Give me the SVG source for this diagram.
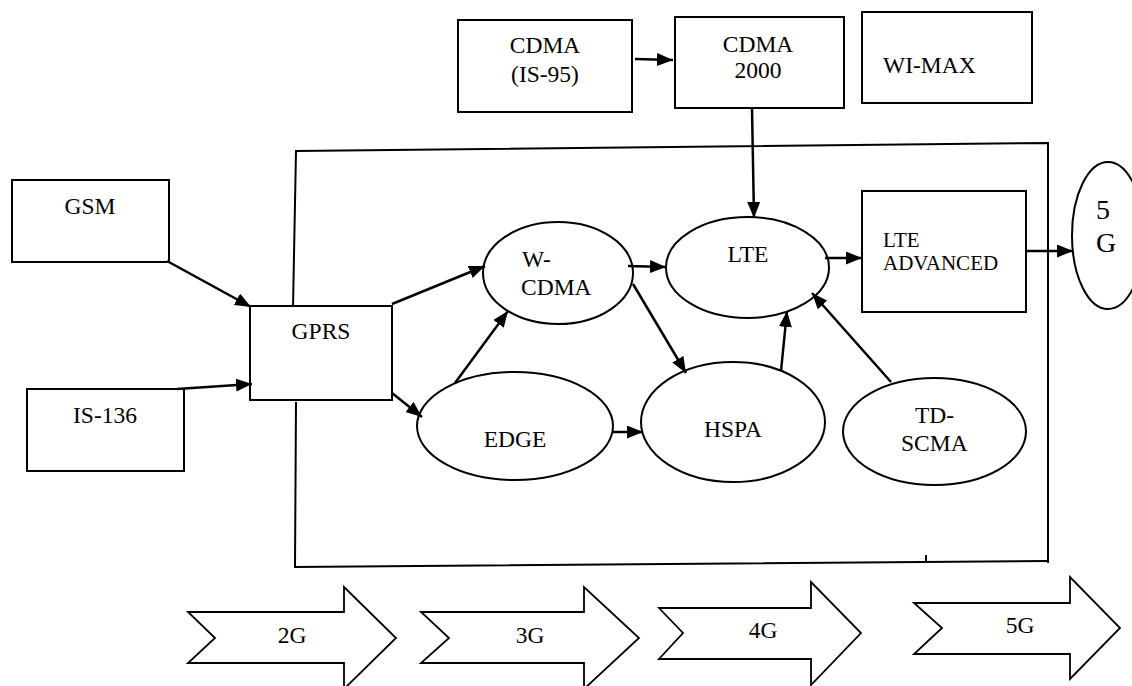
<svg xmlns="http://www.w3.org/2000/svg" width="1132" height="686" viewBox="0 0 1132 686" font-family="'Liberation Serif', 'DejaVu Serif', serif">
<defs>
<style>
.box{fill:#fff;stroke:#000;stroke-width:2}
.ell{fill:#fff;stroke:#000;stroke-width:2}
.frame{fill:none;stroke:#000;stroke-width:2}
.con{fill:none;stroke:#000;stroke-width:2.5;marker-end:url(#ah)}
.big{fill:#fff;stroke:#000;stroke-width:1.8;stroke-linejoin:miter}
text{font-family:'Liberation Serif','DejaVu Serif',serif;font-size:23.5px;fill:#000}
.m{text-anchor:middle}
.sm{font-size:21px}
.g5{font-size:28px}
</style>
<marker id="ah" markerUnits="userSpaceOnUse" markerWidth="18" markerHeight="14" refX="16" refY="6.5" orient="auto">
<path d="M0,0 L16,6.5 L0,13 z" fill="#000"/>
</marker>
</defs>
<rect width="1132" height="686" fill="#fff"/>
<g id="frame">
<path class="frame" d="M293,308 L296,151 L1048,143 L1048,563"/>
<path class="frame" d="M1048,561 L295,567 L296,402"/>
<path class="frame" d="M926,555 L926,562"/>
</g>
<g id="cdma-is95"><rect class="box" x="458" y="20" width="174" height="92"/><text class="m" x="545" y="53">CDMA</text><text class="m" x="545" y="82">(IS-95)</text></g>
<g id="cdma2000"><rect class="box" x="675" y="17" width="169" height="91"/><text class="m" x="758" y="52">CDMA</text><text class="m" x="758" y="78">2000</text></g>
<g id="wimax"><rect class="box" x="862" y="12" width="170" height="91"/><text x="883" y="73">WI-MAX</text></g>
<g id="gsm"><rect class="box" x="12" y="180" width="157" height="82"/><text class="m" x="90" y="214">GSM</text></g>
<g id="is136"><rect class="box" x="27" y="389" width="157" height="82"/><text class="m" x="105" y="423">IS-136</text></g>
<g id="gprs"><rect class="box" x="250" y="306" width="142" height="94"/><text class="m" x="321" y="339">GPRS</text></g>
<g id="wcdma"><ellipse class="ell" cx="558" cy="273" rx="75" ry="51"/><text x="522" y="267">W-</text><text x="521" y="295">CDMA</text></g>
<g id="lte"><ellipse class="ell" cx="747.5" cy="267.5" rx="81.5" ry="50.5"/><text class="m" x="748" y="262">LTE</text></g>
<g id="lte-adv"><rect class="box" x="862" y="191" width="164" height="121"/><text class="sm" x="883" y="247">LTE</text><text class="sm" x="883" y="270">ADVANCED</text></g>
<g id="g5"><ellipse class="ell" cx="1108" cy="235.5" rx="36" ry="73.5"/><text class="g5" x="1096" y="219">5</text><text class="g5" x="1096" y="252">G</text></g>
<g id="edge"><ellipse class="ell" cx="515" cy="426" rx="98" ry="54"/><text class="m" x="515" y="447">EDGE</text></g>
<g id="hspa"><ellipse class="ell" cx="733" cy="422" rx="92" ry="60"/><text class="m" x="733" y="437">HSPA</text></g>
<g id="tdscma"><ellipse class="ell" cx="934.5" cy="431.5" rx="91.5" ry="53.5"/><text x="915" y="423">TD-</text><text x="901" y="451">SCMA</text></g>
<g id="connectors">
<line class="con" x1="635" y1="59" x2="673" y2="60"/>
<line class="con" x1="752" y1="108" x2="754" y2="218"/>
<line class="con" x1="167" y1="261" x2="251" y2="307"/>
<line class="con" x1="177" y1="389" x2="252" y2="384"/>
<line class="con" x1="392" y1="304" x2="485" y2="266"/>
<line class="con" x1="392" y1="393" x2="422" y2="417"/>
<line class="con" x1="455" y1="383" x2="508" y2="311"/>
<line class="con" x1="628" y1="266" x2="666" y2="267"/>
<line class="con" x1="633" y1="284" x2="686" y2="373"/>
<line class="con" x1="612" y1="432" x2="643" y2="432"/>
<line class="con" x1="781" y1="371" x2="787" y2="311"/>
<line class="con" x1="891" y1="382" x2="812" y2="293"/>
<line class="con" x1="825" y1="258" x2="862" y2="258"/>
<line class="con" x1="1026" y1="251" x2="1073" y2="251"/>
</g>
<g id="arrow-2g"><polygon class="big" points="188,612 344,612 344,587 396,638 344,689 344,663 188,663 215,638"/><text class="m" x="292" y="643">2G</text></g>
<g id="arrow-3g"><polygon class="big" points="421,612 584,612 584,587 639,638 584,689 584,663 421,663 449,638"/><text class="m" x="530" y="643">3G</text></g>
<g id="arrow-4g"><polygon class="big" points="659,608 811,608 811,582 861,633 811,685 811,659 659,659 683,633"/><text class="m" x="763" y="638">4G</text></g>
<g id="arrow-5g"><polygon class="big" points="914,603 1070,603 1070,577 1120,628 1070,679 1070,654 914,654 942,628"/><text class="m" x="1020" y="633">5G</text></g>
</svg>
